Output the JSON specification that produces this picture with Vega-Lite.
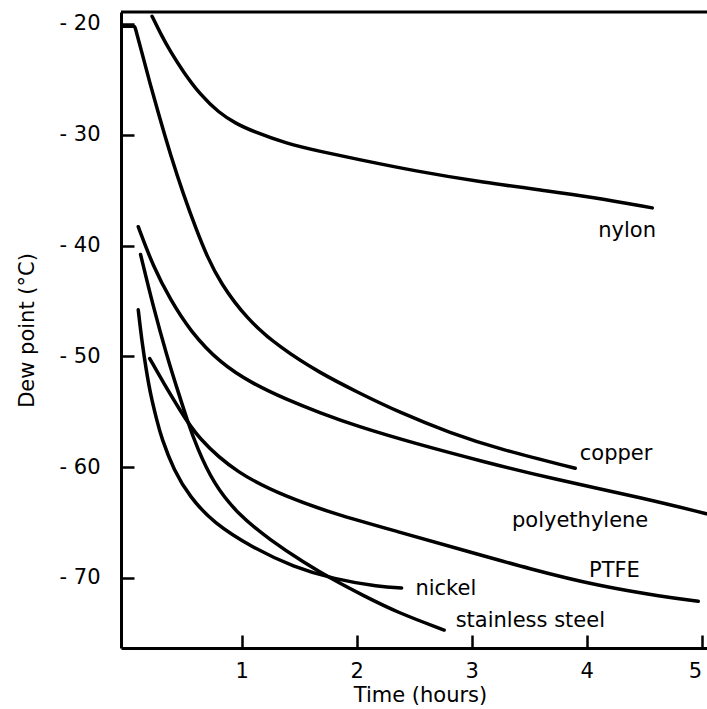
{
  "$schema": "https://vega.github.io/schema/vega-lite/v6.json",
  "width": 586,
  "height": 636,
  "autosize": {"type": "none"},
  "padding": {"left": 121, "top": 12, "right": 0, "bottom": 61},
  "background": "white",
  "config": {
    "view": {"stroke": null},
    "font": "DejaVu Sans",
    "axis": {
      "grid": false,
      "domainColor": "black",
      "domainWidth": 3,
      "tickColor": "black",
      "tickWidth": 2.5,
      "tickSize": -13,
      "labelColor": "black",
      "titleColor": "black",
      "labelFont": "DejaVu Sans",
      "titleFont": "DejaVu Sans",
      "labelFontSize": 21,
      "titleFontSize": 21,
      "titleFontWeight": "normal"
    }
  },
  "datasets": {
    "curves": [
      {"series": "nylon", "t": 0.22, "dew": -19.3},
      {"series": "nylon", "t": 0.30, "dew": -21.0},
      {"series": "nylon", "t": 0.38, "dew": -22.5},
      {"series": "nylon", "t": 0.49, "dew": -24.3},
      {"series": "nylon", "t": 0.64, "dew": -26.4},
      {"series": "nylon", "t": 0.80, "dew": -28.0},
      {"series": "nylon", "t": 0.95, "dew": -29.0},
      {"series": "nylon", "t": 1.10, "dew": -29.7},
      {"series": "nylon", "t": 1.39, "dew": -30.8},
      {"series": "nylon", "t": 1.68, "dew": -31.5},
      {"series": "nylon", "t": 2.00, "dew": -32.2},
      {"series": "nylon", "t": 2.52, "dew": -33.3},
      {"series": "nylon", "t": 3.10, "dew": -34.3},
      {"series": "nylon", "t": 3.68, "dew": -35.1},
      {"series": "nylon", "t": 4.03, "dew": -35.6},
      {"series": "nylon", "t": 4.57, "dew": -36.6},

      {"series": "copper", "t": -0.04, "dew": -20.2},
      {"series": "copper", "t": 0.07, "dew": -20.2},
      {"series": "copper", "t": 0.07, "dew": -20.2},
      {"series": "copper", "t": 0.13, "dew": -22.5},
      {"series": "copper", "t": 0.20, "dew": -25.3},
      {"series": "copper", "t": 0.29, "dew": -28.6},
      {"series": "copper", "t": 0.38, "dew": -31.8},
      {"series": "copper", "t": 0.49, "dew": -35.3},
      {"series": "copper", "t": 0.61, "dew": -38.7},
      {"series": "copper", "t": 0.70, "dew": -41.0},
      {"series": "copper", "t": 0.81, "dew": -43.3},
      {"series": "copper", "t": 1.04, "dew": -46.6},
      {"series": "copper", "t": 1.33, "dew": -49.2},
      {"series": "copper", "t": 1.68, "dew": -51.5},
      {"series": "copper", "t": 2.00, "dew": -53.2},
      {"series": "copper", "t": 2.38, "dew": -55.1},
      {"series": "copper", "t": 2.81, "dew": -56.9},
      {"series": "copper", "t": 3.25, "dew": -58.4},
      {"series": "copper", "t": 3.90, "dew": -60.1},

      {"series": "polyethylene", "t": 0.10, "dew": -38.3},
      {"series": "polyethylene", "t": 0.23, "dew": -41.9},
      {"series": "polyethylene", "t": 0.38, "dew": -44.9},
      {"series": "polyethylene", "t": 0.55, "dew": -47.7},
      {"series": "polyethylene", "t": 0.81, "dew": -50.6},
      {"series": "polyethylene", "t": 1.10, "dew": -52.5},
      {"series": "polyethylene", "t": 1.39, "dew": -53.9},
      {"series": "polyethylene", "t": 1.68, "dew": -55.1},
      {"series": "polyethylene", "t": 2.00, "dew": -56.3},
      {"series": "polyethylene", "t": 2.52, "dew": -57.9},
      {"series": "polyethylene", "t": 3.10, "dew": -59.5},
      {"series": "polyethylene", "t": 3.68, "dew": -61.0},
      {"series": "polyethylene", "t": 4.50, "dew": -62.8},
      {"series": "polyethylene", "t": 5.04, "dew": -64.2},

      {"series": "PTFE", "t": 0.20, "dew": -50.2},
      {"series": "PTFE", "t": 0.32, "dew": -52.4},
      {"series": "PTFE", "t": 0.46, "dew": -54.8},
      {"series": "PTFE", "t": 0.61, "dew": -57.3},
      {"series": "PTFE", "t": 0.96, "dew": -60.6},
      {"series": "PTFE", "t": 1.39, "dew": -62.7},
      {"series": "PTFE", "t": 1.80, "dew": -64.2},
      {"series": "PTFE", "t": 2.35, "dew": -65.8},
      {"series": "PTFE", "t": 2.93, "dew": -67.5},
      {"series": "PTFE", "t": 3.51, "dew": -69.2},
      {"series": "PTFE", "t": 4.09, "dew": -70.7},
      {"series": "PTFE", "t": 4.67, "dew": -71.7},
      {"series": "PTFE", "t": 4.97, "dew": -72.1},

      {"series": "stainless steel", "t": 0.12, "dew": -40.8},
      {"series": "stainless steel", "t": 0.23, "dew": -45.5},
      {"series": "stainless steel", "t": 0.35, "dew": -50.0},
      {"series": "stainless steel", "t": 0.45, "dew": -53.3},
      {"series": "stainless steel", "t": 0.53, "dew": -55.9},
      {"series": "stainless steel", "t": 0.61, "dew": -58.2},
      {"series": "stainless steel", "t": 0.75, "dew": -61.4},
      {"series": "stainless steel", "t": 0.96, "dew": -64.2},
      {"series": "stainless steel", "t": 1.25, "dew": -66.6},
      {"series": "stainless steel", "t": 1.54, "dew": -68.6},
      {"series": "stainless steel", "t": 1.80, "dew": -70.2},
      {"series": "stainless steel", "t": 2.06, "dew": -71.6},
      {"series": "stainless steel", "t": 2.35, "dew": -73.1},
      {"series": "stainless steel", "t": 2.76, "dew": -74.7},

      {"series": "nickel", "t": 0.10, "dew": -45.8},
      {"series": "nickel", "t": 0.13, "dew": -48.5},
      {"series": "nickel", "t": 0.17, "dew": -51.3},
      {"series": "nickel", "t": 0.21, "dew": -53.6},
      {"series": "nickel", "t": 0.26, "dew": -55.7},
      {"series": "nickel", "t": 0.30, "dew": -57.3},
      {"series": "nickel", "t": 0.41, "dew": -60.3},
      {"series": "nickel", "t": 0.55, "dew": -62.7},
      {"series": "nickel", "t": 0.75, "dew": -65.0},
      {"series": "nickel", "t": 1.10, "dew": -67.3},
      {"series": "nickel", "t": 1.45, "dew": -69.0},
      {"series": "nickel", "t": 1.80, "dew": -70.1},
      {"series": "nickel", "t": 2.20, "dew": -70.8},
      {"series": "nickel", "t": 2.39, "dew": -70.9}
    ],
    "labels": [
      {"label": "nylon", "t": 4.10, "dew": -39.25},
      {"label": "copper", "t": 3.94, "dew": -59.35},
      {"label": "polyethylene", "t": 3.35, "dew": -65.37},
      {"label": "PTFE", "t": 4.02, "dew": -69.88},
      {"label": "nickel", "t": 2.51, "dew": -71.53},
      {"label": "stainless steel", "t": 2.86, "dew": -74.4}
    ],
    "border": [{"dew": -18.92}]
  },
  "layer": [
    {
      "data": {"name": "curves"},
      "mark": {"type": "line", "color": "black", "strokeWidth": 3.5, "interpolate": "basis", "strokeCap": "round", "clip": true},
      "encoding": {
        "x": {
          "field": "t", "type": "quantitative",
          "scale": {"domain": [-0.05, 5.046], "nice": false, "zero": false},
          "axis": {"values": [1, 2, 3, 4, 5], "format": "d", "title": "Time (hours)", "labelPadding": 25, "titlePadding": 3, "labelFlush": 6, "titleX": 299}
        },
        "y": {
          "field": "dew", "type": "quantitative",
          "scale": {"domain": [-76.32, -18.92], "nice": false, "zero": false},
          "axis": {"values": [-20, -30, -40, -50, -60, -70], "labelExpr": "'- ' + abs(datum.value)", "title": "Dew point (°C)", "labelPadding": 34, "titlePadding": 22}
        },
        "detail": {"field": "series"}
      }
    },
    {
      "data": {"name": "border"},
      "mark": {"type": "rule", "color": "black", "strokeWidth": 3},
      "encoding": {"y": {"field": "dew", "type": "quantitative"}}
    },
    {
      "data": {"name": "labels"},
      "mark": {"type": "text", "align": "left", "baseline": "alphabetic", "fontSize": 21, "font": "DejaVu Sans", "color": "black"},
      "encoding": {
        "x": {"field": "t", "type": "quantitative"},
        "y": {"field": "dew", "type": "quantitative"},
        "text": {"field": "label"}
      }
    }
  ]
}
